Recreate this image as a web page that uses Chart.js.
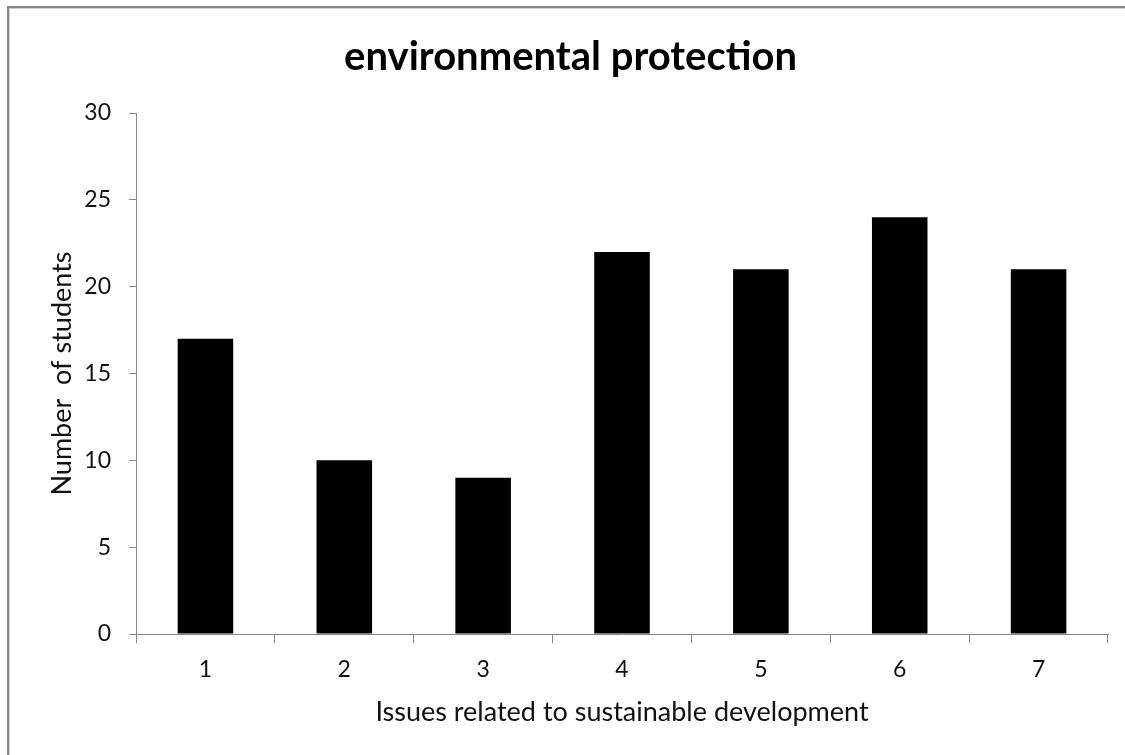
<!DOCTYPE html>
<html>
<head>
<meta charset="utf-8">
<style>
  html, body { margin: 0; padding: 0; background: #fff; overflow: hidden; }
  #frame {
    position: absolute; left: 7px; top: 6px; width: 2000px; height: 2000px;
    border-left: 2px solid #878787; border-top: 2px solid #878787;
    box-shadow: inset 1px 1px 0 #cfcfcf;
  }
  #wrap { position: absolute; left: 0; top: 0; width: 1125px; height: 755px; }
</style>
<script src="https://cdn.jsdelivr.net/npm/chart.js@4/dist/chart.umd.min.js"></script>
</head>
<body>
<div id="frame"></div>
<div id="wrap"><canvas id="chart" width="1125" height="755"></canvas></div>
<script>
// Survey results: number of students per sustainable-development issue
const categories = ['1', '2', '3', '4', '5', '6', '7'];
const studentCounts = [17, 10, 9, 22, 21, 24, 21];
const yTicks = [0, 5, 10, 15, 20, 25, 30];

const FONT = "Lato, 'Open Sans', sans-serif";
const AXIS_GREY = '#868686';
const TEXT = '#111111';

new Chart(document.getElementById('chart'), {
  type: 'bar',
  data: {
    labels: categories,
    datasets: [{
      data: studentCounts,
      backgroundColor: '#000000',
      borderWidth: 0,
      barPercentage: 0.4,
      categoryPercentage: 1.0
    }]
  },
  options: {
    responsive: false,
    animation: false,
    devicePixelRatio: 1,
    layout: { padding: { left: 33, right: 17, top: 0, bottom: 20 } },
    plugins: {
      legend: { display: false },
      tooltip: { enabled: false },
      title: {
        display: true,
        text: 'environmental protection',
        color: '#000',
        font: { family: FONT, size: 40, weight: 'bold', lineHeight: 1.2 },
        padding: { top: 33, bottom: 32 }
      }
    },
    scales: {
      x: {
        offset: true,
        grid: {
          offset: true, drawOnChartArea: false, drawTicks: true,
          tickLength: 9, color: AXIS_GREY, lineWidth: 1
        },
        border: { display: true, color: AXIS_GREY, width: 1 },
        ticks: { color: TEXT, font: { family: FONT, size: 23 }, padding: 13 },
        title: {
          display: true,
          text: 'Issues related to sustainable development',
          color: TEXT,
          font: { family: FONT, size: 27, lineHeight: 1.2 },
          padding: { top: 0, bottom: 7 }
        },
        afterFit: s => { s.height = 101; }
      },
      y: {
        min: 0, max: 30,
        afterBuildTicks: s => { s.ticks = yTicks.map(v => ({ value: v })); },
        grid: {
          drawOnChartArea: false, drawTicks: true,
          tickLength: 7, color: AXIS_GREY, lineWidth: 1
        },
        border: { display: true, color: AXIS_GREY, width: 1 },
        ticks: { color: TEXT, font: { family: FONT, size: 23 }, padding: 18 },
        title: {
          display: true,
          text: 'Number  of students',
          color: TEXT,
          font: { family: FONT, size: 27, lineHeight: 1.2 },
          padding: { top: 13, bottom: 0 }
        },
        afterFit: s => { s.width = 103; }
      }
    }
  }
});
</script>
</body>
</html>
